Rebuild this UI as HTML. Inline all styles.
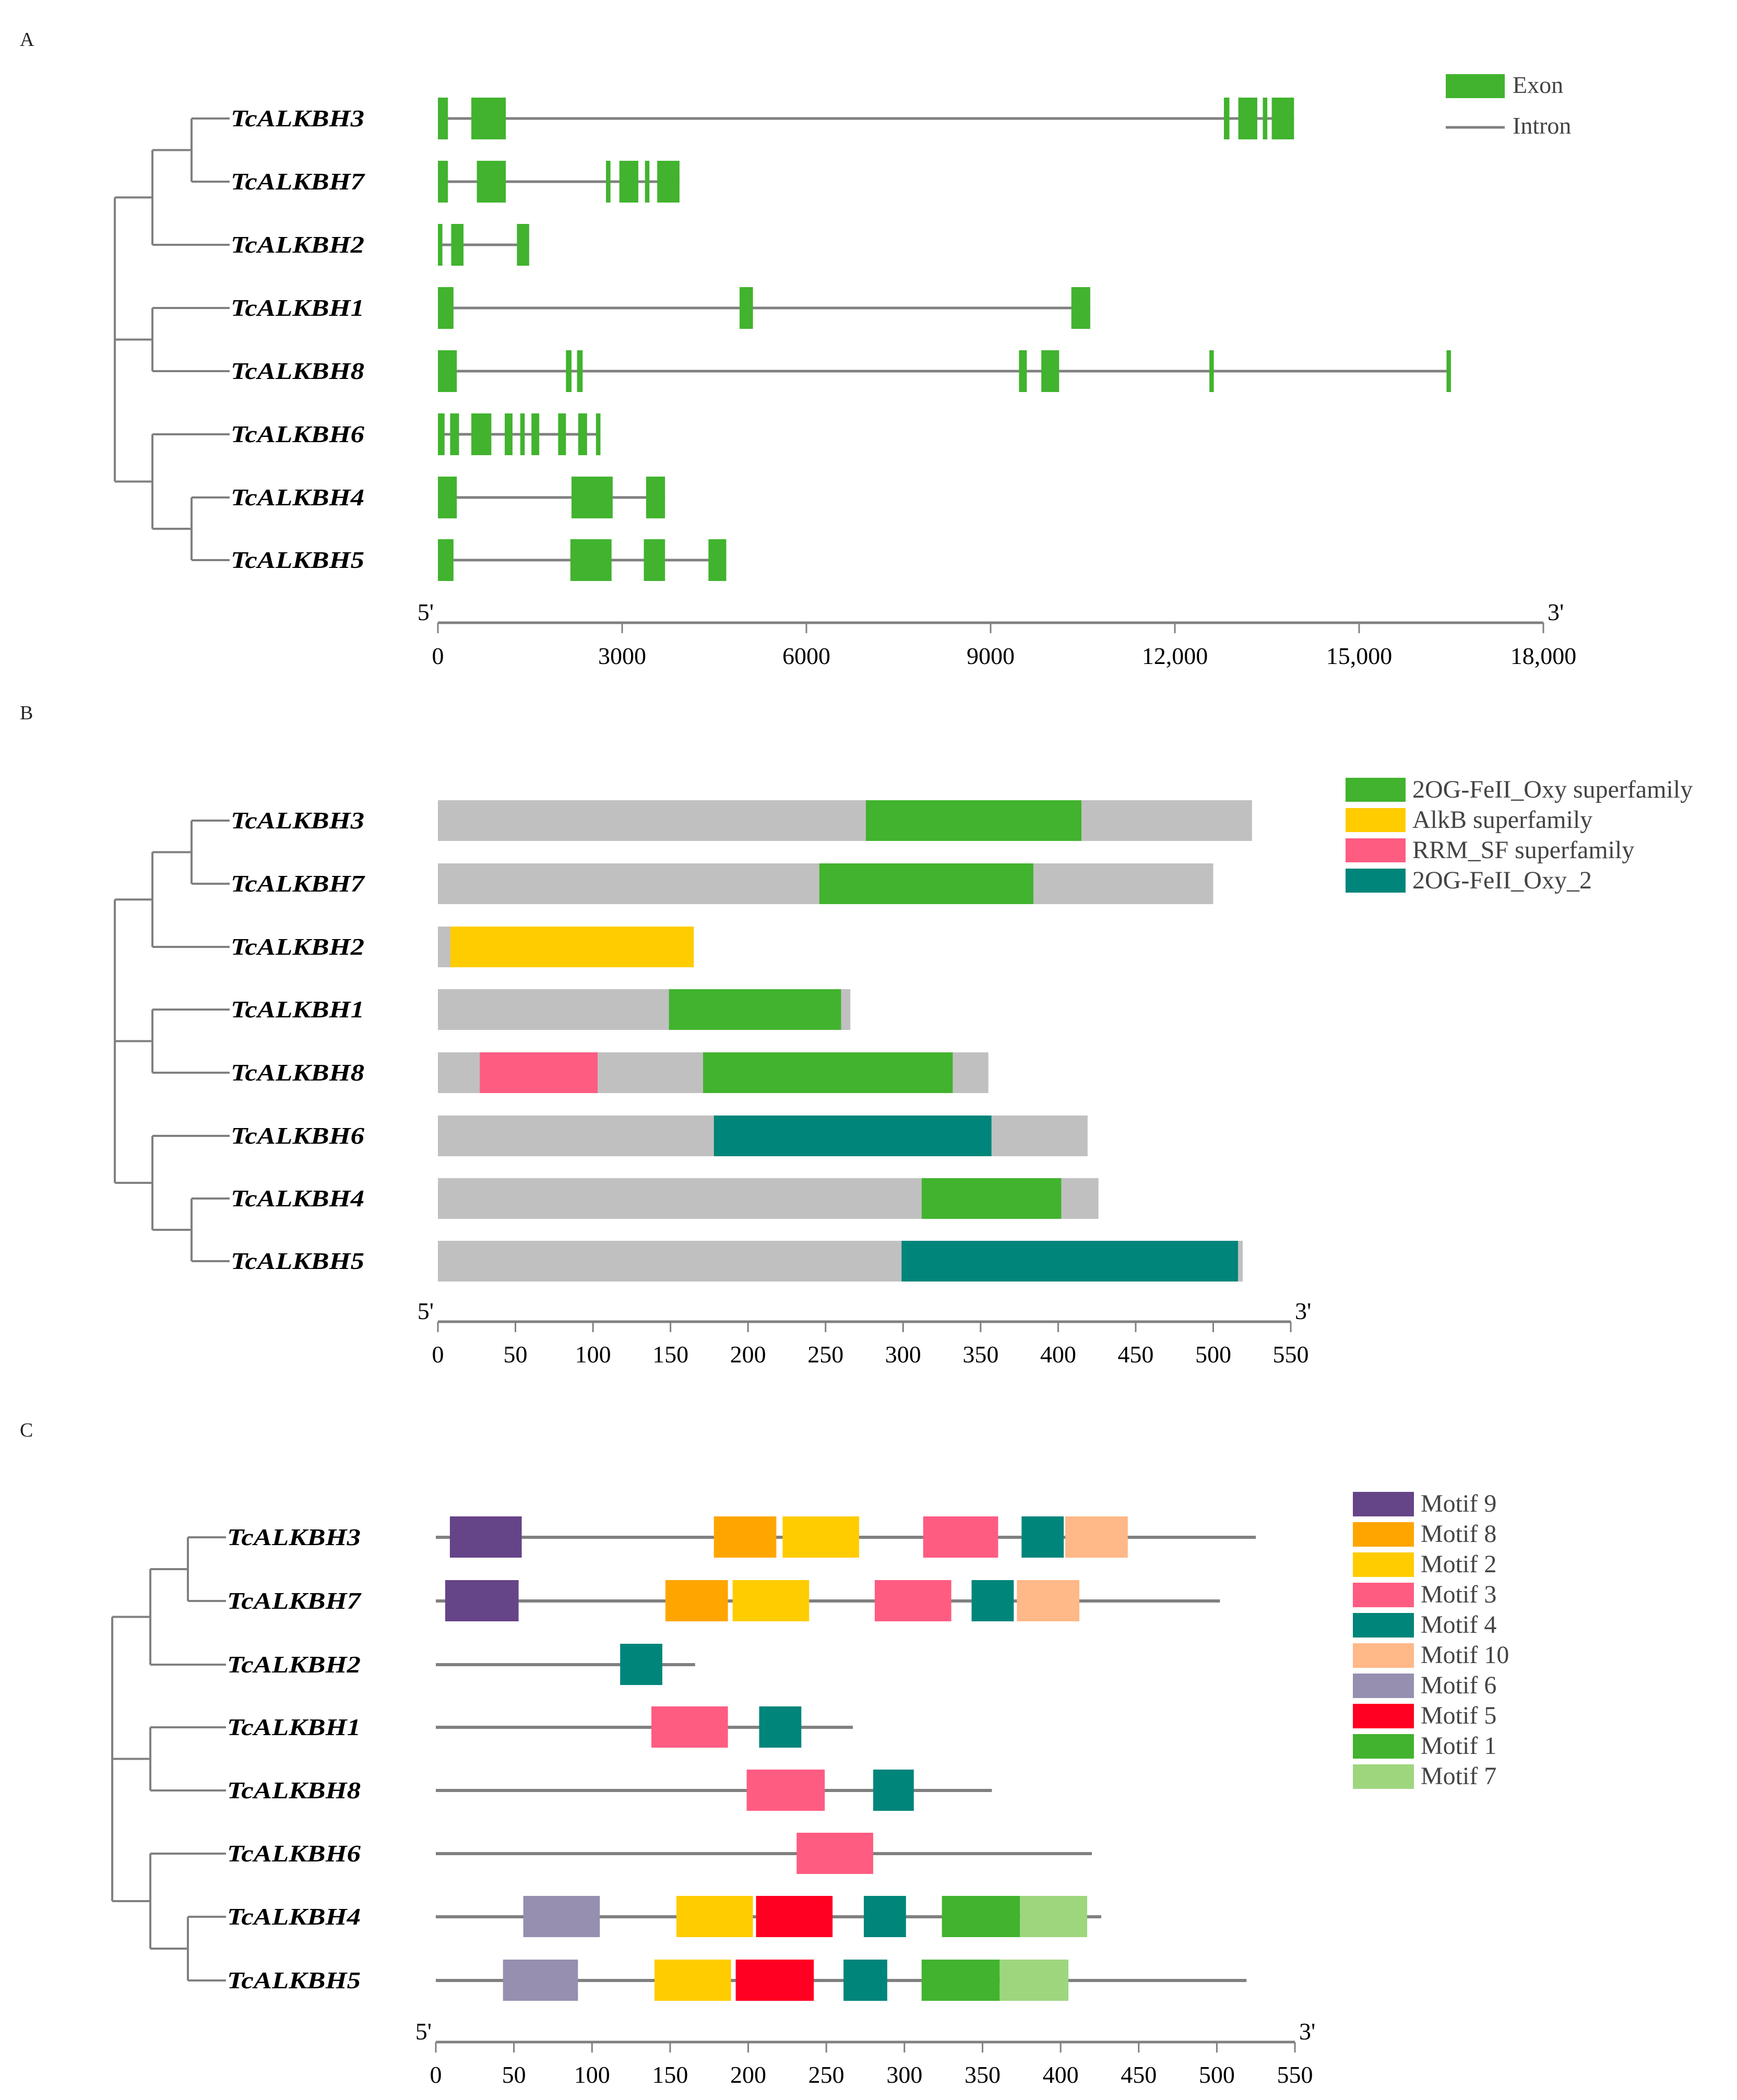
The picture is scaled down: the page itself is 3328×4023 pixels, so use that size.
<!DOCTYPE html>
<html><head><meta charset="utf-8"><style>
html,body{margin:0;padding:0;background:#fff;}
svg{display:block;}
text{font-family:"Liberation Serif",serif;}
</style></head><body>
<svg id="fig" xmlns="http://www.w3.org/2000/svg" width="3328" height="4023" viewBox="0 0 3328 4023">
<rect width="3328" height="4023" fill="#fff"/>
</svg>
<script>
const genes = ['TcALKBH3','TcALKBH7','TcALKBH2','TcALKBH1','TcALKBH8','TcALKBH6','TcALKBH4','TcALKBH5'];
// Panel A: exon coordinates (bp)
const exonsA = [
 [[0,163],[544,1106],[12798,12888],[13033,13342],[13432,13505],[13577,13940]],
 [[0,163],[634,1106],[2737,2810],[2955,3263],[3372,3444],[3571,3934]],
 [[0,73],[217,417],[1287,1486]],
 [[0,254],[4912,5130],[10314,10622]],
 [[0,308],[2085,2175],[2266,2357],[9462,9589],[9825,10115],[12562,12634],[16423,16495]],
 [[0,109],[199,344],[544,870],[1088,1215],[1341,1414],[1523,1650],[1958,2085],[2284,2429],[2574,2647]],
 [[0,308],[2175,2846],[3390,3698]],
 [[0,254],[2157,2828],[3353,3698],[4405,4695]]
];
const ticksA = [0,3000,6000,9000,12000,15000,18000];
const tickLabelsA = ['0','3000','6000','9000','12,000','15,000','18,000'];
// Panel B: protein length and domains (aa)
const lengthsB = [525,500,165,266,355,419,426,519];
const domainsB = [
 [[276,415,'2OG']],
 [[246,384,'2OG']],
 [[8,165,'AlkB']],
 [[149,260,'2OG']],
 [[27,103,'RRM'],[171,332,'2OG']],
 [[178,357,'Oxy2']],
 [[312,402,'2OG']],
 [[299,516,'Oxy2']]
];
const domainNames = ['2OG','AlkB','RRM','Oxy2'];
const domainLabels = ['2OG-FeII_Oxy superfamily','AlkB superfamily','RRM_SF superfamily','2OG-FeII_Oxy_2'];
const ticksB = [0,50,100,150,200,250,300,350,400,450,500,550];
// Panel C: motifs (aa)
const lengthsC = [525,502,166,267,356,420,426,519];
const motifsC = [
 [[9,55,9],[178,218,8],[222,271,2],[312,360,3],[375,402,4],[403,443,10]],
 [[6,53,9],[147,187,8],[190,239,2],[281,330,3],[343,370,4],[372,412,10]],
 [[118,145,4]],
 [[138,187,3],[207,234,4]],
 [[199,249,3],[280,306,4]],
 [[231,280,3]],
 [[56,105,6],[154,203,2],[205,254,5],[274,301,4],[324,374,1],[374,417,7]],
 [[43,91,6],[140,189,2],[192,242,5],[261,289,4],[311,361,1],[361,405,7]]
];
const motifOrder = [9,8,2,3,4,10,6,5,1,7];
const ticksC = [0,50,100,150,200,250,300,350,400,450,500,550];

const domainColors = {'2OG':'#41b32e','AlkB':'#ffcc00','RRM':'#ff5c82','Oxy2':'#00857a'};
const motifColors = {9:'#664488',8:'#ffa500',2:'#ffcc00',3:'#ff5c82',4:'#00857a',10:'#ffb887',6:'#968faf',5:'#ff0022',1:'#41b32e',7:'#9ed67e'};
const GREY = '#808080';
const NS = 'http://www.w3.org/2000/svg';
const svg = document.getElementById('fig');

function mk(tag, attrs, parent, txt){
  const e = document.createElementNS(NS, tag);
  for (const k in attrs) e.setAttribute(k, attrs[k]);
  if (txt !== undefined) e.textContent = txt;
  (parent || svg).appendChild(e);
  return e;
}
function line(x1,y1,x2,y2,w,g){
  return mk('line',{x1:x1,y1:y1,x2:x2,y2:y2,stroke:GREY,'stroke-width':w},g);
}

function drawTree(g, ys, x1, x2, x3, xl){
  const W = 4;
  line(x3,ys[0],xl,ys[0],W,g); line(x3,ys[1],xl,ys[1],W,g); line(x3,ys[0],x3,ys[1],W,g);
  const m1 = (ys[0]+ys[1])/2;
  line(x2,m1,x3,m1,W,g); line(x2,ys[2],xl,ys[2],W,g); line(x2,m1,x2,ys[2],W,g);
  const mA = (m1+ys[2])/2;
  line(x2,ys[3],xl,ys[3],W,g); line(x2,ys[4],xl,ys[4],W,g); line(x2,ys[3],x2,ys[4],W,g);
  const mB = (ys[3]+ys[4])/2;
  line(x3,ys[6],xl,ys[6],W,g); line(x3,ys[7],xl,ys[7],W,g); line(x3,ys[6],x3,ys[7],W,g);
  const m2 = (ys[6]+ys[7])/2;
  line(x2,m2,x3,m2,W,g); line(x2,ys[5],xl,ys[5],W,g); line(x2,ys[5],x2,m2,W,g);
  const mC = (ys[5]+m2)/2;
  line(x1,mA,x1,mC,W,g); line(x1,mA,x2,mA,W,g); line(x1,mB,x2,mB,W,g); line(x1,mC,x2,mC,W,g);
}
function drawLabels(g, ys, x){
  ys.forEach((y,i)=>{
    const t = mk('text',{x:x,y:y+15,'font-size':46,'font-weight':'bold','font-style':'italic',textLength:256,lengthAdjust:'spacingAndGlyphs',fill:'#000'},g,genes[i]);
    
    
  });
}
function drawAxis(g, x0, x1, y, ticks, labels, maxV, labY){
  const sx = v => x0 + v/maxV*(x1-x0);
  line(x0,y,x1,y,5,g);
  ticks.forEach((v,i)=>{
    line(sx(v),y,sx(v),y+20,3,g);
    const t = mk('text',{x:sx(v),y:labY,'font-size':46,'text-anchor':'middle',fill:'#000'},g,labels[i]);
    
    
  });
  const a = mk('text',{x:x0-8,y:y-5,'font-size':46,'text-anchor':'end',fill:'#000'},g,"5'");
  
  
  const b = mk('text',{x:x1+8,y:y-5,'font-size':46,fill:'#000'},g,"3'");
  
  
  return sx;
}

// ---------- Panel A ----------
const gA = mk('g',{});


const pA = mk('text',{x:38,y:88,'font-size':38,fill:'#222'},gA,'A');


const ysA = [227,348,469,590,711,832,953,1073];
drawTree(gA, ysA, 220, 292, 367, 440);
drawLabels(gA, ysA, 442);
const sxA = drawAxis(gA, 839, 2957, 1193, ticksA, tickLabelsA, 18000, 1272);
exonsA.forEach((ex,i)=>{
  const y = ysA[i];
  const end = ex[ex.length-1][1];
  const l = line(sxA(0), y, sxA(end), y, 5, gA);
  
  
  ex.forEach(e=>{
    const r = mk('rect',{x:sxA(e[0]),y:y-40,width:Math.max(sxA(e[1])-sxA(e[0]),7),height:80,fill:'#41b32e'},gA);
    
    
  });
});
const lgA = mk('g',{},gA);


mk('rect',{x:2770,y:142,width:113,height:46,fill:'#41b32e'},lgA);
mk('text',{x:2898,y:178,'font-size':46,fill:'#444'},lgA,'Exon');
line(2770,244,2883,244,5,lgA);
mk('text',{x:2898,y:256,'font-size':46,fill:'#444'},lgA,'Intron');

// ---------- Panel B ----------
const gB = mk('g',{});


const pB = mk('text',{x:38,y:1378,'font-size':38,fill:'#222'},gB,'B');


const ysB = [1572,1693,1814,1934,2055,2176,2296,2416];
drawTree(gB, ysB, 220, 292, 367, 440);
drawLabels(gB, ysB, 442);
const sxB = drawAxis(gB, 839, 2473, 2532, ticksB, ticksB.map(String), 550, 2610);
lengthsB.forEach((L,i)=>{
  const y = ysB[i];
  const r = mk('rect',{x:sxB(0),y:y-39,width:sxB(L)-sxB(0),height:78,fill:'#c0c0c0'},gB);
  
  
  domainsB[i].forEach(d=>{
    const dr = mk('rect',{x:sxB(d[0]),y:y-39,width:sxB(d[1])-sxB(d[0]),height:78,fill:domainColors[d[2]]},gB);
    
    
  });
});
const lgB = mk('g',{},gB);


domainNames.forEach((n,i)=>{
  const y = 1490 + i*58;
  mk('rect',{x:2578,y:y,width:115,height:46,fill:domainColors[n]},lgB);
  const t = mk('text',{x:2706,y:y+38,'font-size':48,fill:'#444'},lgB,domainLabels[i]);
  
  
});

// ---------- Panel C ----------
const gC = mk('g',{});


const pC = mk('text',{x:38,y:2752,'font-size':38,fill:'#222'},gC,'C');


const ysC = [2945,3067,3189,3309,3430,3551,3672,3794];
drawTree(gC, ysC, 215, 288, 360, 433);
drawLabels(gC, ysC, 435);
const sxC = drawAxis(gC, 835, 2481, 3912, ticksC, ticksC.map(String), 550, 3990);
lengthsC.forEach((L,i)=>{
  const y = ysC[i];
  const l = line(sxC(0), y, sxC(L), y, 6, gC);
  
  
  motifsC[i].forEach(m=>{
    const r = mk('rect',{x:sxC(m[0]),y:y-40,width:sxC(m[1])-sxC(m[0]),height:79,fill:motifColors[m[2]]},gC);
    
    
  });
});
const lgC = mk('g',{},gC);


motifOrder.forEach((m,i)=>{
  const y = 2858 + i*58;
  mk('rect',{x:2592,y:y,width:117,height:47,fill:motifColors[m]},lgC);
  const t = mk('text',{x:2722,y:y+38,'font-size':48,fill:'#444'},lgC,'Motif ' + m);
  
  
});
</script>
</body></html>
